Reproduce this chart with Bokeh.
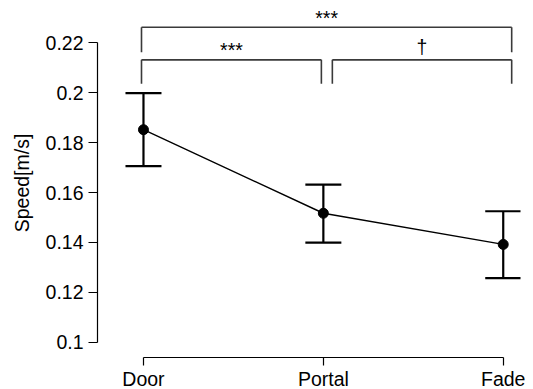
from bokeh.plotting import figure
from bokeh.models import FixedTicker, Range1d, ColumnDataSource, Whisker, TeeHead
from bokeh.core.properties import value
from bokeh.embed import file_html
from bokeh.resources import INLINE

# ---- data ----
conditions = ["Door", "Portal", "Fade"]
speed_mean = [0.1852, 0.1517, 0.1392]
speed_upper = [0.1999, 0.1632, 0.1525]
speed_lower = [0.1706, 0.1399, 0.1257]

ytick_values = [0.1, 0.12, 0.14, 0.16, 0.18, 0.2, 0.22]
ytick_labels = ["0.1", "0.12", "0.14", "0.16", "0.18", "0.2", "0.22"]

# significance comparisons: (from, to, label)
comp_from = ["Door", "Portal", "Door"]
comp_to = ["Portal", "Fade", "Fade"]
comp_label = ["***", "\u2020", "***"]

FONT = "Liberation Sans"

xs = list(range(len(conditions)))

p = figure(frame_width=423, frame_height=349,
           x_range=Range1d(-0.2556, 2.096), y_range=Range1d(0.09386, 0.2338),
           output_backend="svg", toolbar_location=None,
           min_border_left=97, min_border_top=8, min_border_right=5,
           min_border_bottom=0)
p.outline_line_color = None
p.grid.visible = False
p.background_fill_color = "white"
p.border_fill_color = "white"

src = ColumnDataSource(dict(x=xs, mean=speed_mean, up=speed_upper, lo=speed_lower))

# error bars
w = Whisker(base="x", upper="up", lower="lo", source=src,
            line_color="black", line_width=2.2,
            upper_head=TeeHead(size=36, line_width=2.2, line_color="black"),
            lower_head=TeeHead(size=36, line_width=2.2, line_color="black"))
p.add_layout(w)

p.line("x", "mean", source=src, line_color="black", line_width=1.4)
p.scatter("x", "mean", source=src, size=10, color="black")

# significance brackets
idx = {c: i for i, c in enumerate(conditions)}
label_lift = {"***": 0.0038, "\u2020": 0.0051}
bx0, bx1, bytop, byleg, tx, ty, tl = [], [], [], [], [], [], []
for a, b, lab in zip(comp_from, comp_to, comp_label):
    i, j = idx[a], idx[b]
    wide = (j - i) > 1
    x0 = i - 0.011 if i == 0 else i + 0.05
    x1 = j + 0.047 if j == len(conditions) - 1 else j - 0.011
    top = 0.2263 if wide else 0.2132
    leg = 0.2163 if wide else 0.2036
    bx0.append(x0); bx1.append(x1); bytop.append(top); byleg.append(leg)
    tx.append((x0 + x1) / 2)
    ty.append(top + label_lift[lab])
    tl.append(lab)

bcol = "#3a3a3a"
p.segment(bx0, bytop, bx1, bytop, line_color=bcol, line_width=1.6)
p.segment(bx0, bytop, bx0, byleg, line_color=bcol, line_width=1.6)
p.segment(bx1, bytop, bx1, byleg, line_color=bcol, line_width=1.6)
p.text(tx, ty, text=tl, text_align="center", text_baseline="alphabetic",
       text_font=value(FONT), text_font_size="19.5px", text_color="black")

# axes
p.xaxis.ticker = FixedTicker(ticks=xs)
p.xaxis.major_label_overrides = {i: c for i, c in enumerate(conditions)}
p.xaxis.bounds = (0, len(conditions) - 1)
p.xaxis.major_tick_in = 0
p.xaxis.major_tick_out = 8
p.xaxis.minor_tick_line_color = None
p.xaxis.major_label_standoff = 2

p.yaxis.ticker = FixedTicker(ticks=ytick_values)
p.yaxis.major_label_overrides = dict(zip(ytick_values, ytick_labels))
p.yaxis.bounds = (ytick_values[0], ytick_values[-1])
p.yaxis.major_tick_in = 0
p.yaxis.major_tick_out = 9
p.yaxis.minor_tick_line_color = None
p.yaxis.major_label_standoff = 5
p.yaxis.axis_label = "Speed[m/s]"
p.yaxis.axis_label_standoff = 10

for ax in (p.xaxis, p.yaxis):
    ax.axis_line_color = "black"
    ax.axis_line_width = 1.2
    ax.major_tick_line_color = "black"
    ax.major_tick_line_width = 1.2
    ax.major_label_text_font = FONT
    ax.major_label_text_font_size = "19.5px"
    ax.major_label_text_color = "black"
    ax.axis_label_text_font = FONT
    ax.axis_label_text_font_size = "19.5px"
    ax.axis_label_text_font_style = "normal"
    ax.axis_label_text_color = "black"

open("out.html", "w").write(file_html(p, INLINE))
